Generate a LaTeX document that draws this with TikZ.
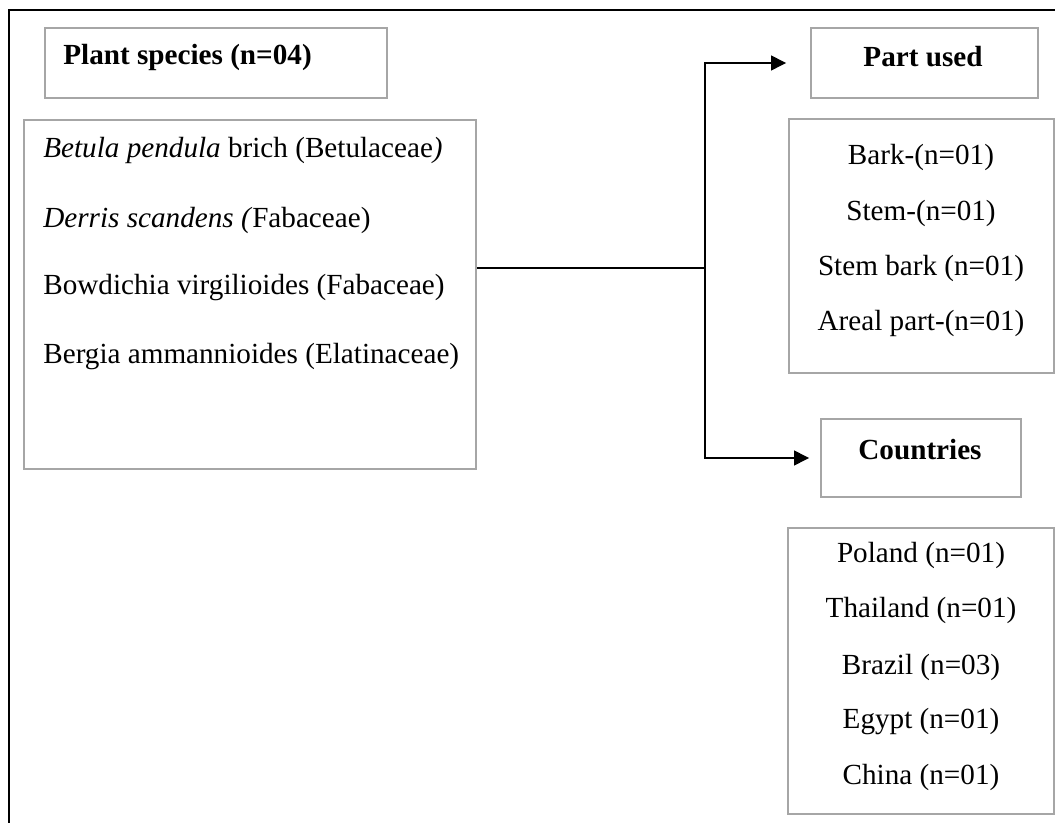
\documentclass[tikz,border=0pt]{standalone}
\usepackage{fontspec}
\setmainfont{Liberation Serif}
\usetikzlibrary{arrows.meta}

\tikzset{
    box/.style={draw=gray!70, line width=1.1pt, rectangle, inner sep=0pt},
    txt/.style={inner sep=0pt, font=\fontsize{16.6}{19}\selectfont},
    head/.style={txt, font=\fontsize{16.6}{19}\selectfont\bfseries},
    arr/.style={-{Triangle[length=0.3cm,width=0.3cm]}, line width=0.8pt}
}

\begin{document}
\begin{tikzpicture}
            \useasboundingbox (0,0) rectangle (21.1,-16.46);
            \draw[line width=0.8pt] (0.18,-16.46) |- (21.1,-0.2);

            \node[box, minimum width=6.84cm, minimum height=1.4cm] (Pbox) at (4.32,-1.26) {};
            \node[head, anchor=west] (Ptitle) at (1.26,-1.14) {Plant species (n=04)};

            \node[box, minimum width=9.04cm, minimum height=6.98cm] (Sbox) at (5.0,-5.89) {};
            \node[txt, anchor=west] (S1) at (0.86,-3.0) {\textit{Betula pendula} brich (Betulaceae\textit{)}};
            \node[txt, anchor=west] (S2) at (0.86,-4.4) {\textit{Derris scandens (}Fabaceae)};
            \node[txt, anchor=west] (S3) at (0.86,-5.76) {Bowdichia virgilioides (Fabaceae)};
            \node[txt, anchor=west] (S4) at (0.86,-7.14) {Bergia ammannioides (Elatinaceae)};

            \node[box, minimum width=4.54cm, minimum height=1.4cm] (Ubox) at (18.49,-1.26) {};
            \node[head] (Utitle) at (18.46,-1.14) {Part used};

            \node[box, minimum width=5.3cm, minimum height=5.08cm] (Lbox) at (18.43,-4.92) {};
            \node[txt] (L1) at (18.42,-3.14) {Bark-(n=01)};
            \node[txt] (L2) at (18.42,-4.26) {Stem-(n=01)};
            \node[txt] (L3) at (18.42,-5.36) {Stem bark (n=01)};
            \node[txt] (L4) at (18.42,-6.46) {Areal part-(n=01)};

            \node[box, minimum width=4.0cm, minimum height=1.56cm] (Cbox) at (18.42,-9.16) {};
            \node[head] (Ctitle) at (18.4,-9.0) {Countries};

            \node[box, minimum width=5.32cm, minimum height=5.72cm] (Kbox) at (18.42,-13.42) {};
            \node[txt] (K1) at (18.42,-11.1) {Poland (n=01)};
            \node[txt] (K2) at (18.42,-12.2) {Thailand (n=01)};
            \node[txt] (K3) at (18.42,-13.34) {Brazil (n=03)};
            \node[txt] (K4) at (18.42,-14.44) {Egypt (n=01)};
            \node[txt] (K5) at (18.42,-15.54) {China (n=01)};

            \coordinate (split) at (14.1,-5.36);
            \draw[line width=0.8pt] (Sbox.east |- split) -- (split);
            \draw[arr, shorten >=0.48cm] (split) |- (Ubox.west);
            \draw[arr, shorten >=0.22cm] (split) |- (Cbox.west);

        \end{tikzpicture}
\end{document}
